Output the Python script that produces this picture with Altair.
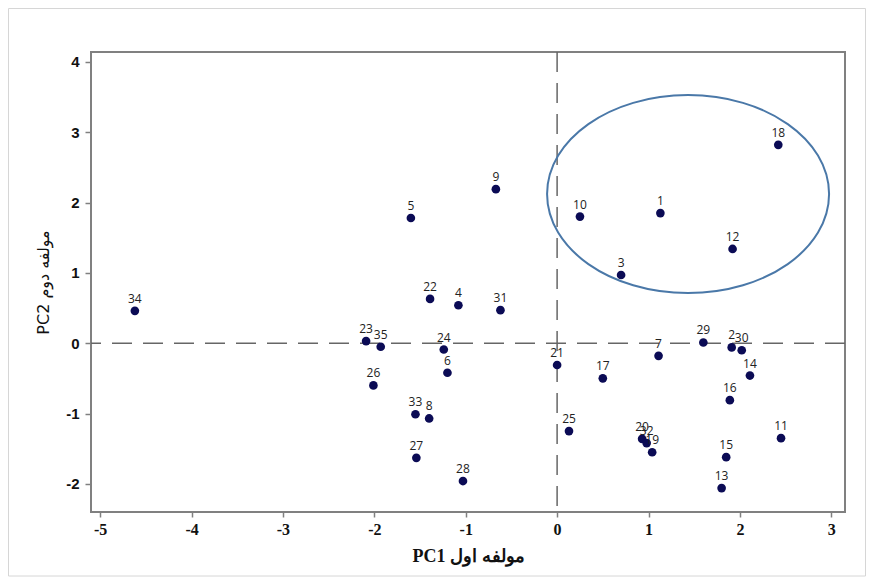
import altair as alt
import pandas as pd

# ---- data ----
labels = [str(i) for i in range(1, 36)]
pc1 = [1.13, 1.91, 0.70, -1.08, -1.60, -1.20, 1.11, -1.40, -0.67, 0.25,
       2.45, 1.92, 1.80, 2.11, 1.85, 1.89, 0.50, 2.42, 1.04, 0.93,
       0.00, -1.39, -2.09, -1.24, 0.13, -2.01, -1.54, -1.03, 1.60, 2.02,
       -0.62, 0.98, -1.55, -4.62, -1.93]
pc2 = [1.85, -0.06, 0.97, 0.54, 1.78, -0.42, -0.18, -1.07, 2.19, 1.80,
       -1.35, 1.34, -2.06, -0.46, -1.62, -0.81, -0.50, 2.82, -1.55, -1.36,
       -0.31, 0.63, 0.03, -0.09, -1.25, -0.60, -1.63, -1.96, 0.01, -0.10,
       0.47, -1.42, -1.01, 0.46, -0.05]
x_ticks = [-5, -4, -3, -2, -1, 0, 1, 2, 3]
y_ticks = [-2, -1, 0, 1, 2, 3, 4]
x_domain = [-5.10, 3.15]
y_domain = [-2.40, 4.14]
ellipse_center = {"x": [1.433], "y": [2.12]}

df = pd.DataFrame({"label": labels, "pc1": pc1, "pc2": pc2})
ell = pd.DataFrame(ellipse_center)
zero = pd.DataFrame({"v": [0]})

W, H = 754, 460

xs = alt.Scale(domain=x_domain, nice=False, zero=False)
ys = alt.Scale(domain=y_domain, nice=False, zero=False)

x_axis = alt.Axis(values=x_ticks, title="PC1 مولفه اول", grid=False,
                  labelExpr="'' + datum.value",
                  labelFont="Liberation Serif", labelFontWeight="bold", labelFontSize=16,
                  labelColor="#111", labelPadding=4,
                  titleFont="Liberation Serif", titleFontWeight="bold", titleFontSize=18,
                  titleColor="#111", titlePadding=10,
                  domain=False, tickColor="#808080", tickSize=5, tickWidth=1.5)
y_axis = alt.Axis(values=y_ticks, title="PC2 مولفه دوم", grid=False,
                  labelExpr="'' + datum.value",
                  labelFont="Liberation Sans", labelFontWeight="bold", labelFontSize=15,
                  labelColor="#111", labelPadding=6,
                  titleFont="DejaVu Sans", titleFontWeight="normal", titleFontSize=16,
                  titleColor="#111", titlePadding=14,
                  domain=False, tickColor="#808080", tickSize=6, tickWidth=1.5)

base = alt.Chart(df)

points = base.mark_circle(size=75, color="#0b0b55", opacity=1).encode(
    x=alt.X("pc1:Q", scale=xs, axis=x_axis),
    y=alt.Y("pc2:Q", scale=ys, axis=y_axis),
)

texts = base.mark_text(font="Open Sans", fontSize=12, color="#222",
                       baseline="bottom", dy=-5).encode(
    x=alt.X("pc1:Q", scale=xs),
    y=alt.Y("pc2:Q", scale=ys),
    text="label:N",
)

hline = alt.Chart(zero).mark_rule(color="#666", strokeWidth=1.5, strokeDash=[20, 11]).encode(
    y=alt.Y("v:Q", scale=ys)
)
vline = alt.Chart(zero).mark_rule(color="#666", strokeWidth=1.5, strokeDash=[20, 11]).encode(
    x=alt.X("v:Q", scale=xs)
)

ellipse_path = ("M -1 0 C -1 -0.3877 -0.5523 -0.702 0 -0.702 "
                "C 0.5523 -0.702 1 -0.3877 1 0 "
                "C 1 0.3877 0.5523 0.702 0 0.702 "
                "C -0.5523 0.702 -1 0.3877 -1 0 Z")
ellipse = alt.Chart(ell).mark_point(shape=ellipse_path, size=282 * 282, filled=False,
                                    stroke="#4a78a8", strokeWidth=2, opacity=1).encode(
    x=alt.X("x:Q", scale=xs),
    y=alt.Y("y:Q", scale=ys),
)

border = alt.Chart(zero).mark_rect(fill=None, stroke="#d6d6d6", strokeWidth=1).encode(
    x=alt.value(-82.5), x2=alt.value(W + 20.5),
    y=alt.value(-43.5), y2=alt.value(H + 64),
)

chart = alt.layer(border, hline, vline, ellipse, points, texts).properties(
    width=W, height=H,
    autosize=alt.AutoSizeParams(type="none"),
    padding={"left": 83, "top": 44, "right": 21, "bottom": 65},
).configure_view(
    stroke="#808080", strokeWidth=2
)

chart.save("out.html", embed_options={"renderer": "svg", "actions": False})
